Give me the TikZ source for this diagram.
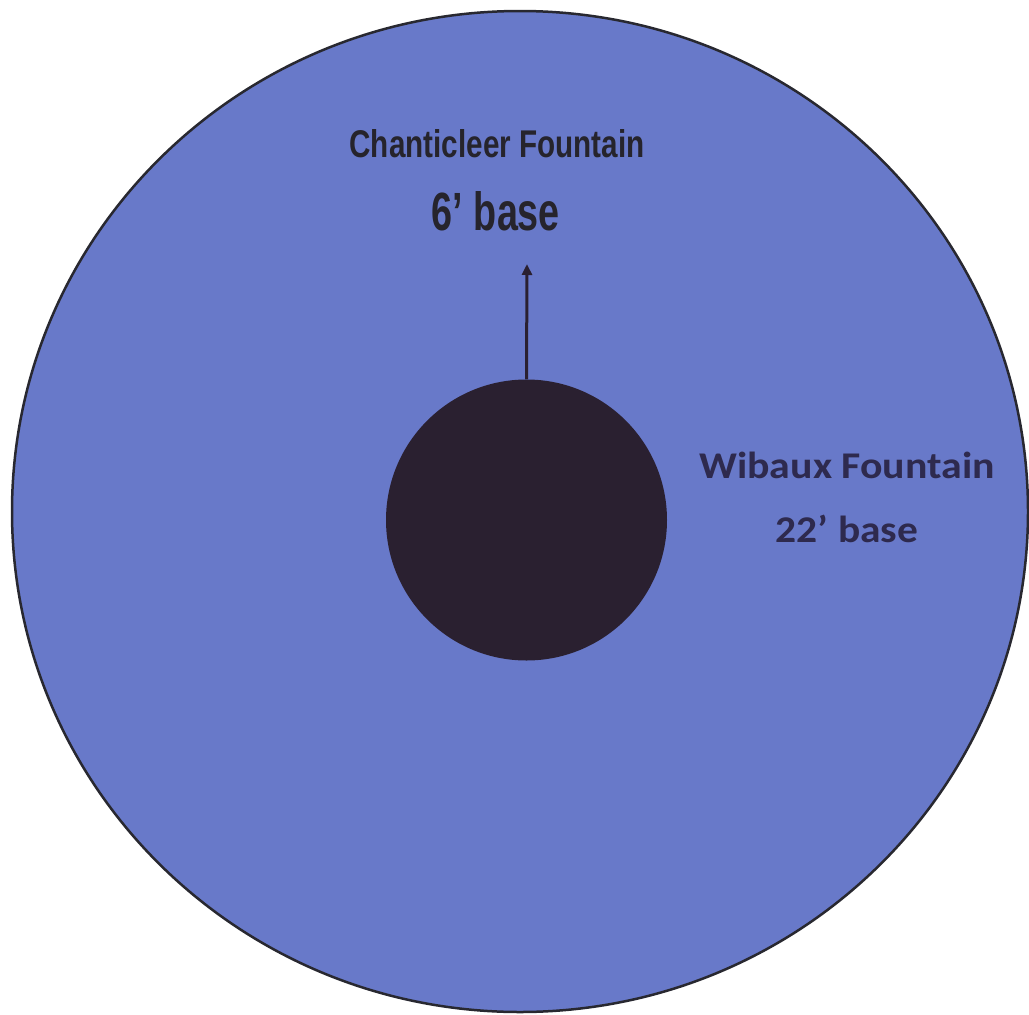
\documentclass[tikz,border=0pt]{standalone}
\usepackage{fontspec}
\usepackage{graphicx}
\setmainfont{Carlito}
\newfontfamily\condfont{Liberation Sans}
\usetikzlibrary{shapes.geometric,arrows.meta}
\definecolor{poolblue}{RGB}{104,121,201}
\definecolor{rimgrey}{RGB}{40,40,48}
\definecolor{basedark}{RGB}{42,32,48}
\definecolor{labelnavy}{RGB}{46,42,78}
\definecolor{labelblack}{RGB}{38,36,44}
\tikzset{
  pool/.style={ellipse, draw=rimgrey, line width=2.5pt, fill=poolblue, inner sep=0pt},
  basin/.style={circle, fill=basedark, inner sep=0pt, minimum size=281pt},
  pointer/.style={draw=basedark, line width=3pt, -{Triangle[length=11pt,width=10pt]}},
  condlabel/.style={anchor=base, inner sep=0pt, text=labelblack},
  sanslabel/.style={anchor=base, inner sep=0pt, text=labelnavy, font=\fontsize{37}{40}\selectfont\bfseries}
}
\begin{document}
\begin{tikzpicture}[x=1pt,y=-1pt]
\useasboundingbox (0,0) rectangle (1029,1015);
\fill[white] (0,0) rectangle (1029,1015);
\node[pool, minimum width=1016pt, minimum height=1001pt] (outer) at (520,511.5) {};
\node[basin] (inner) at (526.5,520) {};
\coordinate (tip) at (527,264);
\draw[pointer] (inner.north) -- (tip);
\node[condlabel] (chant) at (497,157) {\resizebox{295pt}{28pt}{\condfont\bfseries Chanticleer Fountain}};
\node[condlabel] (six) at (496,230) {\resizebox{128pt}{39pt}{\condfont\bfseries 6’ base}};
\node[sanslabel] (wibaux) at (847,478) {\scalebox{1.13}[1.02]{Wibaux Fountain}};
\node[sanslabel] (twentytwo) at (847,542) {\scalebox{1.12}[1.02]{22’ base}};
\end{tikzpicture}
\end{document}
